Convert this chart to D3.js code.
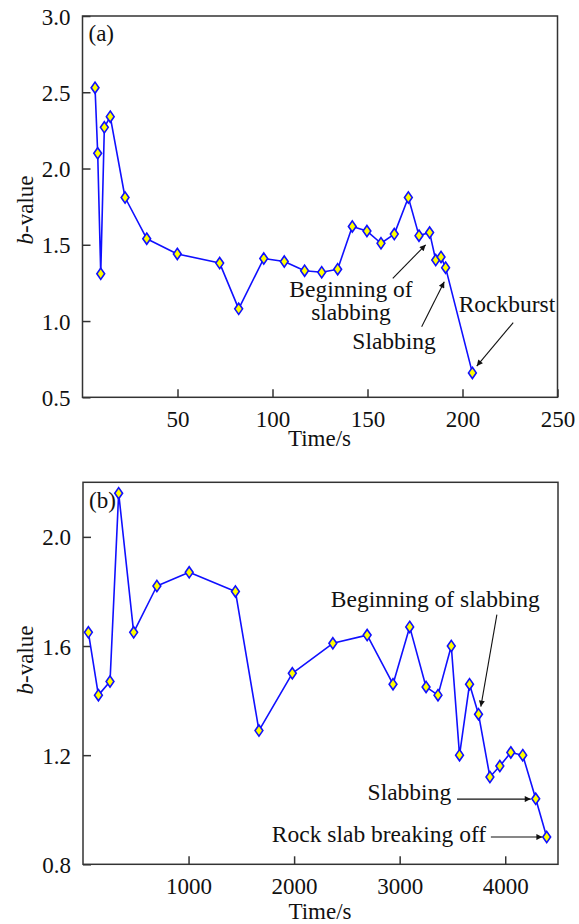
<!DOCTYPE html>
<html>
<head>
<meta charset="utf-8">
<script src="https://cdn.jsdelivr.net/npm/d3@7"></script>
<style>
  html, body { margin: 0; padding: 0; background: #fff; }
  svg { display: block; }
  svg text { font-family: "Liberation Serif", "Times New Roman", Tinos, "DejaVu Serif", "Noto Serif", serif; fill: #111; }
</style>
</head>
<body>
<svg id="chart" width="579" height="924"></svg>
<script>
// ---- Panel (a): b-value versus time, rockburst test ----
const timeA = [6.6, 8.0, 9.6, 11.5, 14.6, 22.4, 33.8, 49.9, 72.2, 82.2, 95.4, 106.2, 116.9,
  125.9, 134.3, 142.0, 149.7, 157.1, 164.1, 171.5, 177.1, 182.7, 185.9, 188.7, 191.1, 205.2];
const bValueA = [2.53, 2.10, 1.31, 2.27, 2.34, 1.81, 1.54, 1.44, 1.38, 1.08, 1.41, 1.39, 1.33,
  1.32, 1.34, 1.62, 1.59, 1.51, 1.57, 1.81, 1.56, 1.58, 1.40, 1.42, 1.35, 0.66];
const xTicksA = [50, 100, 150, 200, 250];
const yTicksA = [0.5, 1.0, 1.5, 2.0, 2.5, 3.0];

// ---- Panel (b): b-value versus time, slabbing test ----
const timeB = [51, 146, 256, 338, 480, 700, 1006, 1444, 1667, 1983, 2367, 2692, 2937, 3095,
  3250, 3363, 3489, 3567, 3662, 3747, 3855, 3949, 4053, 4166, 4289, 4393];
const bValueB = [1.65, 1.42, 1.47, 2.16, 1.65, 1.82, 1.87, 1.80, 1.29, 1.50, 1.61, 1.64, 1.46,
  1.67, 1.45, 1.42, 1.60, 1.20, 1.46, 1.35, 1.12, 1.16, 1.21, 1.20, 1.04, 0.90];
const xTicksB = [1000, 2000, 3000, 4000];
const yTicksB = [0.8, 1.2, 1.6, 2.0];

// Event annotations: text anchored in data units, arrows from tail to head in data units
const notesA = [
  { lines: ["Beginning of", "slabbing"], t: 141.3, b: 1.157, anchor: "middle",
    arrow: [[163.3, 1.28], [180.6, 1.50]] },
  { lines: ["Slabbing"], t: 164, b: 0.817, anchor: "middle",
    arrow: [[178.5, 0.963], [190.4, 1.258]] },
  { lines: ["Rockburst"], t: 223.4, b: 1.057, anchor: "middle",
    arrow: [[226.7, 0.99], [207.5, 0.705]] }
];
const notesB = [
  { lines: ["Beginning of slabbing"], t: 3337, b: 1.744, anchor: "middle",
    arrow: [[3921, 1.715], [3769, 1.378]] },
  { lines: ["Slabbing"], t: 3092, b: 1.036, anchor: "middle",
    arrow: [[3543, 1.039], [4242, 1.039]] },
  { lines: ["Rock slab breaking off"], t: 3819, b: 0.882, anchor: "end",
    arrow: [[3864, 0.90], [4352, 0.90]] }
];

const svg = d3.select("#chart");
const FONT = 23;
const NOTE_FONT = 23.5;
const SERIF = '"Liberation Serif", "Times New Roman", Tinos, "DejaVu Serif", "Noto Serif", serif';

svg.append("defs").append("marker")
  .attr("id", "arrowhead")
  .attr("viewBox", "0 0 10 10")
  .attr("refX", 10).attr("refY", 5)
  .attr("markerWidth", 9).attr("markerHeight", 6)
  .attr("markerUnits", "userSpaceOnUse")
  .attr("orient", "auto")
  .append("path").attr("d", "M0,0 L10,5 L0,10 Z").attr("fill", "#111");

function drawPanel(cfg) {
  const x = d3.scaleLinear().domain(cfg.xDomain).range([cfg.left, cfg.right]);
  const y = d3.scaleLinear().domain(cfg.yDomain).range([cfg.bottom, cfg.top]);
  const g = svg.append("g").attr("font-family", SERIF);

  // bottom axis, ticks pointing into the plot
  const xAxis = g.append("g").attr("transform", `translate(0,${cfg.bottom})`)
    .call(d3.axisBottom(x).tickValues(cfg.xTicks).tickSizeInner(-8).tickSizeOuter(0)
      .tickPadding(0).tickFormat(d3.format("d")));
  xAxis.attr("font-family", SERIF).attr("font-size", FONT);
  xAxis.select(".domain").remove();
  xAxis.selectAll(".tick line").attr("stroke", "#333").attr("stroke-width", 1.5);
  xAxis.selectAll(".tick text").attr("y", 30).attr("dy", null).attr("fill", "#111");

  // left axis, ticks pointing into the plot
  const yAxis = g.append("g").attr("transform", `translate(${cfg.left},0)`)
    .call(d3.axisLeft(y).tickValues(cfg.yTicks).tickSizeInner(-8).tickSizeOuter(0)
      .tickPadding(0).tickFormat(d3.format(".1f")));
  yAxis.attr("font-family", SERIF).attr("font-size", FONT);
  yAxis.select(".domain").remove();
  yAxis.selectAll(".tick line").attr("stroke", "#333").attr("stroke-width", 1.5);
  yAxis.selectAll(".tick text").attr("x", -12).attr("dy", "0.35em").attr("fill", "#111");

  // plot frame
  g.append("rect")
    .attr("x", cfg.left).attr("y", cfg.top)
    .attr("width", cfg.right - cfg.left).attr("height", cfg.bottom - cfg.top)
    .attr("fill", "none").attr("stroke", "#333").attr("stroke-width", 1.5);

  // series line
  const pts = cfg.time.map((t, i) => [t, cfg.values[i]]);
  g.append("path").datum(pts)
    .attr("fill", "none").attr("stroke", "#1010ff").attr("stroke-width", 1.6)
    .attr("stroke-linejoin", "round")
    .attr("d", d3.line().x(d => x(d[0])).y(d => y(d[1])));

  // diamond markers
  g.selectAll("path.marker").data(pts).join("path")
    .attr("class", "marker")
    .attr("transform", d => `translate(${x(d[0])},${y(d[1])})`)
    .attr("d", "M0,-5.6 L3.9,0 L0,5.6 L-3.9,0 Z")
    .attr("fill", "#ffff00").attr("stroke", "#1010ff").attr("stroke-width", 1.6);

  // panel tag
  g.append("text").attr("x", cfg.left + 6).attr("y", cfg.tagY)
    .attr("font-size", FONT).text(cfg.tag);

  // axis titles
  g.append("text")
    .attr("x", (cfg.left + cfg.right) / 2 - 0.5).attr("y", cfg.bottom + cfg.xLabelGap)
    .attr("text-anchor", "middle").attr("font-size", FONT).text("Time/s");

  const yl = g.append("text")
    .attr("transform", `translate(33,${cfg.yLabelMid}) rotate(-90)`)
    .attr("text-anchor", "middle").attr("font-size", FONT);
  yl.append("tspan").attr("font-style", "italic").text("b");
  yl.append("tspan").text("-value");

  // annotations
  cfg.notes.forEach(n => {
    const tx = g.append("text").attr("text-anchor", n.anchor).attr("font-size", NOTE_FONT);
    n.lines.forEach((line, i) => {
      tx.append("tspan").attr("x", x(n.t)).attr("y", y(n.b)).attr("dy", i * 22.5).text(line);
    });
    g.append("line")
      .attr("x1", x(n.arrow[0][0])).attr("y1", y(n.arrow[0][1]))
      .attr("x2", x(n.arrow[1][0])).attr("y2", y(n.arrow[1][1]))
      .attr("stroke", "#111").attr("stroke-width", 1.1)
      .attr("marker-end", "url(#arrowhead)");
  });
}

drawPanel({
  time: timeA, values: bValueA, xTicks: xTicksA, yTicks: yTicksA,
  xDomain: [0, 250], yDomain: [0.5, 3.0],
  left: 82.5, right: 557.5, top: 16, bottom: 397.3,
  tag: "(a)", tagY: 41, yLabelMid: 210, xLabelGap: 49, notes: notesA
});

drawPanel({
  time: timeB, values: bValueB, xTicks: xTicksB, yTicks: yTicksB,
  xDomain: [0, 4500], yDomain: [0.8, 2.2],
  left: 83, right: 558, top: 482.3, bottom: 864.3,
  tag: "(b)", tagY: 508, yLabelMid: 660, xLabelGap: 55, notes: notesB
});
</script>
</body>
</html>
